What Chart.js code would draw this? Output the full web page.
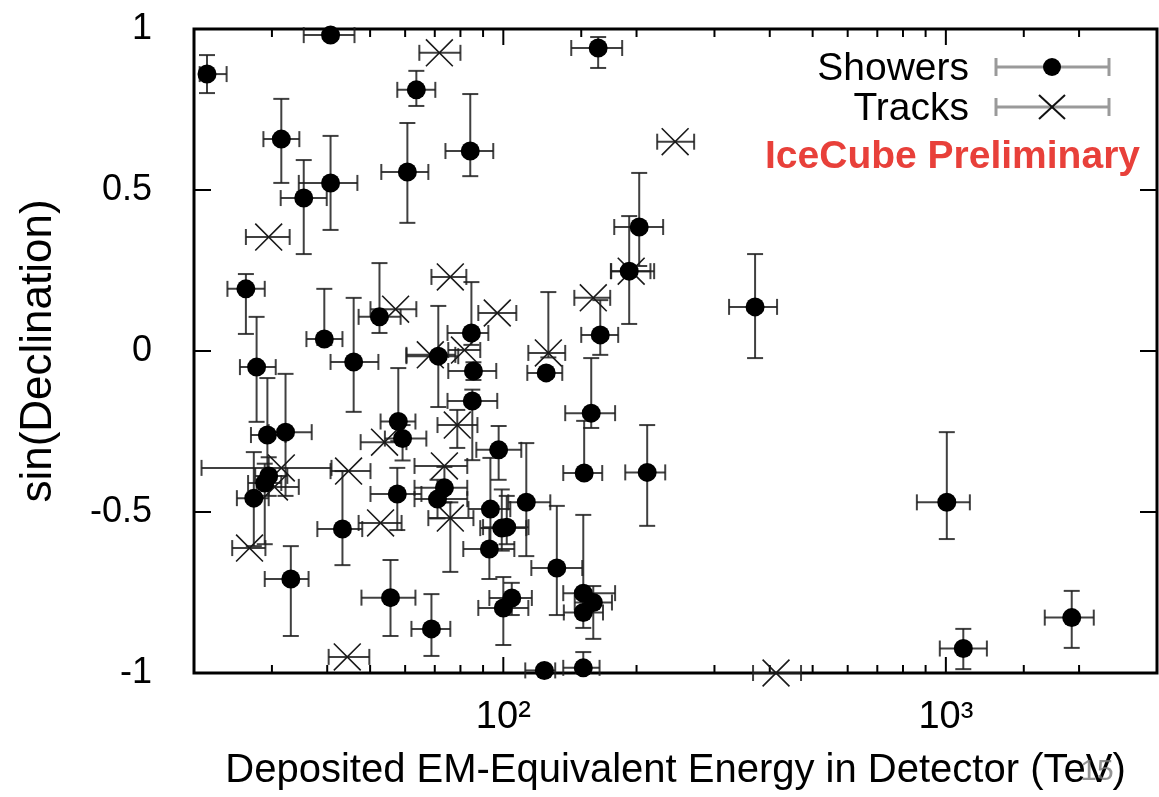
<!DOCTYPE html>
<html>
<head>
<meta charset="utf-8">
<script src="https://cdn.jsdelivr.net/npm/chart.js@4.4.0/dist/chart.umd.min.js"></script>
<style>
  html, body { margin: 0; padding: 0; background: #fff; }
  #wrap { width: 1159px; height: 797px; }
</style>
</head>
<body>
<div id="wrap"><canvas id="c" width="1159" height="797"></canvas></div>
<script>
// Showers: deposited energy (TeV) with low/high, sin(dec) with low/high
const showerE    = [21.4, 40.7, 63.6, 31.5, 35.4, 40.7, 60.7, 84.2, 163.8, 202.8, 192.5, 165.6, 125.0, 158.0, 370.6, 97.6, 152.3, 211.4,
                    26.2, 39.4, 45.9, 52.5, 27.7, 84.7, 71.3, 85.6, 85.1, 57.9, 59.2, 29.3, 32.2, 29.5, 28.9, 27.3, 33.1, 43.3, 57.6,
                    73.6, 71.0, 55.6, 68.8, 93.5, 112.7, 99.2, 101.8, 93.0, 132.1, 104.5, 100.0, 151.6, 159.7, 151.6, 123.8, 151.6,
                    1005, 1095, 1925];
const showerELo  = [20.6, 35.4, 57.6, 28.7, 31.4, 34.5, 53.0, 74.0, 142.4, 178.1, 175.0, 150.0, 113.3, 138.0, 323.7, 86.9, 136.6, 188.6,
                    23.8, 35.9, 40.7, 47.1, 25.4, 74.8, 60.4, 75.1, 74.8, 52.8, 54.0, 26.9, 29.5, 27.5, 26.5, 25.0, 28.9, 38.0, 50.1,
                    63.0, 63.0, 47.8, 62.0, 83.4, 102.6, 88.7, 90.0, 81.2, 115.7, 93.0, 87.8, 136.6, 145.0, 137.0, 112.1, 136.6,
                    860, 969, 1673];
const showerEHi  = [23.7, 46.1, 70.2, 34.6, 39.9, 46.8, 67.7, 94.9, 185.6, 229.7, 215.0, 181.8, 135.9, 178.9, 415.5, 109.8, 167.3, 232.2,
                    28.9, 43.3, 52.2, 58.6, 30.6, 92.5, 79.1, 96.4, 96.9, 63.3, 67.0, 32.2, 36.9, 32.5, 31.5, 29.5, 36.3, 48.0, 65.3,
                    82.9, 82.9, 63.3, 75.9, 103.7, 127.7, 112.7, 114.0, 105.9, 150.8, 116.0, 113.9, 178.9, 176.0, 168.0, 131.0, 165.0,
                    1133, 1238, 2159];
const showerSin   = [0.860, 0.981, 0.811, 0.658, 0.475, 0.522, 0.556, 0.621, 0.941, 0.385, 0.248, 0.050, -0.068, -0.193, 0.137, -0.307, -0.379, -0.377,
                     0.193, 0.037, -0.034, 0.106, -0.050, 0.056, -0.016, -0.062, -0.155, -0.219, -0.272, -0.261, -0.252, -0.388, -0.410, -0.457, -0.708, -0.553, -0.444,
                     -0.425, -0.460, -0.766, -0.863, -0.491, -0.470, -0.550, -0.547, -0.615, -0.674, -0.767, -0.798, -0.752, -0.781, -0.812, -0.992, -0.984,
                     -0.470, -0.924, -0.828];
const showerSinLo = [0.801, 0.970, 0.761, 0.522, 0.301, 0.376, 0.398, 0.543, 0.879, 0.264, 0.084, -0.012, -0.080, -0.239, -0.022, -0.400, -0.394, -0.543,
                     0.053, 0.019, -0.189, 0.056, -0.220, 0.019, -0.174, -0.090, -0.339, -0.280, -0.340, -0.420, -0.450, -0.450, -0.600, -0.606, -0.885, -0.665, -0.556,
                     -0.470, -0.520, -0.885, -0.947, -0.602, -0.637, -0.620, -0.600, -0.708, -0.820, -0.820, -0.913, -0.800, -0.894, -0.860, -1.000, -1.000,
                     -0.584, -0.988, -0.922];
const showerSinHi = [0.919, 0.995, 0.870, 0.783, 0.593, 0.668, 0.708, 0.798, 0.975, 0.553, 0.419, 0.158, -0.056, -0.022, 0.301, -0.233, -0.217, -0.230,
                     0.239, 0.193, 0.165, 0.273, 0.106, 0.214, 0.140, -0.035, -0.120, -0.053, -0.230, -0.084, -0.071, -0.330, -0.350, -0.314, -0.606, -0.373, -0.363,
                     -0.360, -0.400, -0.649, -0.755, -0.332, -0.286, -0.430, -0.450, -0.550, -0.481, -0.720, -0.702, -0.509, -0.730, -0.760, -0.985, -0.935,
                     -0.252, -0.863, -0.745];

// Tracks
const trackE    = [71.7, 244.5, 29.5, 75.9, 57.1, 96.9, 159.7, 194.5, 126.4, 68.4, 81.7, 78.7, 53.9, 31.5, 30.4, 44.7, 73.6, 52.8, 75.9, 26.7, 44.4, 413.3];
const trackELo  = [64.6, 222.7, 26.2, 68.8, 50.1, 87.8, 144.7, 175.3, 113.9, 60.4, 75.1, 71.0, 47.6, 20.8, 27.7, 40.7, 63.0, 47.1, 67.7, 24.4, 40.3, 366.7];
const trackEHi  = [80.0, 269.9, 32.9, 82.5, 63.6, 107.0, 174.4, 219.2, 138.0, 77.9, 88.7, 87.4, 60.4, 40.9, 34.5, 50.1, 82.9, 58.9, 85.6, 29.0, 49.8, 470.7];
const trackSin   = [0.926, 0.650, 0.354, 0.230, 0.130, 0.118, 0.165, 0.248, -0.006, -0.012, 0.003, -0.230, -0.283, -0.363, -0.422, -0.373, -0.357, -0.534, -0.519, -0.612, -0.950, -1.000];
const trackSinLo = [0.926, 0.650, 0.354, 0.230, 0.130, 0.118, 0.165, 0.248, -0.020, -0.012, 0.003, -0.301, -0.283, -0.363, -0.422, -0.373, -0.357, -0.534, -0.686, -0.612, -0.950, -1.000];
const trackSinHi = [0.926, 0.650, 0.354, 0.230, 0.130, 0.118, 0.165, 0.248, 0.183, -0.012, 0.003, -0.183, -0.283, -0.363, -0.422, -0.373, -0.357, -0.534, -0.470, -0.612, -0.950, -1.000];

const xTickLabels = { 100: '10²', 1000: '10³' };
const FONT = '"Liberation Sans", Arial, Helvetica, sans-serif';

function toPoints(e, s) {
    return e.map((v, i) => ({ x: v, y: s[i] }));
}

const errSets = [
    [showerE, showerELo, showerEHi, showerSin, showerSinLo, showerSinHi],
    [trackE, trackELo, trackEHi, trackSin, trackSinLo, trackSinHi]
];

function seg(ctx, x1, y1, x2, y2) {
    ctx.beginPath();
    ctx.moveTo(x1, y1);
    ctx.lineTo(x2, y2);
    ctx.stroke();
}

// no automatic label padding, the layout padding decides the plot box
function noPad(s) {
    s.paddingTop = 0;
    s.paddingBottom = 0;
    s.paddingLeft = 0;
    s.paddingRight = 0;
}

// frame, inward ticks and error bars (under the markers)
const framePlugin = {
    id: 'frameAndErrors',
    beforeDatasetsDraw(chart) {
        const { ctx, chartArea: a, scales: { x, y } } = chart;
        ctx.save();
        ctx.strokeStyle = '#000';
        ctx.lineWidth = 2;
        x.ticks.forEach(t => {
            const px = x.getPixelForValue(t.value);
            const len = xTickLabels[t.value] ? 16 : 8;
            seg(ctx, px, a.bottom, px, a.bottom - len);
            seg(ctx, px, a.top, px, a.top + len);
        });
        y.ticks.forEach(t => {
            const py = y.getPixelForValue(t.value);
            seg(ctx, a.left, py, a.left + 17, py);
            seg(ctx, a.right, py, a.right - 17, py);
        });
        ctx.lineWidth = 3;
        ctx.strokeRect(a.left, a.top, a.right - a.left, a.bottom - a.top);

        ctx.strokeStyle = 'rgba(30,30,30,0.85)';
        ctx.lineWidth = 2;
        const cap = 8;
        errSets.forEach(([e, eLo, eHi, s, sLo, sHi]) => {
            e.forEach((v, i) => {
                const px = x.getPixelForValue(v);
                const py = y.getPixelForValue(s[i]);
                const x1 = x.getPixelForValue(eLo[i]);
                const x2 = x.getPixelForValue(eHi[i]);
                seg(ctx, x1, py, x2, py);
                seg(ctx, x1, py - cap, x1, py + cap);
                seg(ctx, x2, py - cap, x2, py + cap);
                const y1 = y.getPixelForValue(sHi[i]);
                const y2 = y.getPixelForValue(sLo[i]);
                if (Math.abs(y2 - y1) > 2) {
                    seg(ctx, px, y1, px, y2);
                    if (py - y1 > 2) seg(ctx, px - cap, y1, px + cap, y1);
                    if (y2 - py > 2) seg(ctx, px - cap, y2, px + cap, y2);
                }
            });
        });
        ctx.restore();
    },
    afterDraw(chart) {
        const { ctx, chartArea: a } = chart;
        ctx.save();
        // legend
        const tx = a.right - 188, bx1 = a.right - 161, bx2 = a.right - 48, mx = a.right - 105;
        ctx.font = '39px ' + FONT;
        ctx.fillStyle = '#000';
        ctx.textAlign = 'right';
        ctx.textBaseline = 'middle';
        [['Showers', 67], ['Tracks', 107]].forEach(([label, ly], k) => {
            ctx.fillText(label, tx, ly + 2);
            ctx.strokeStyle = '#9a9a9a';
            ctx.lineWidth = 3;
            seg(ctx, bx1, ly, bx2, ly);
            seg(ctx, bx1, ly - 9, bx1, ly + 9);
            seg(ctx, bx2, ly - 9, bx2, ly + 9);
            if (k === 0) {
                ctx.beginPath();
                ctx.arc(mx, ly, 9, 0, Math.PI * 2);
                ctx.fill();
            } else {
                ctx.strokeStyle = '#111';
                ctx.lineWidth = 2;
                seg(ctx, mx - 13, ly - 12, mx + 13, ly + 12);
                seg(ctx, mx - 13, ly + 12, mx + 13, ly - 12);
            }
        });
        ctx.font = 'bold 39px ' + FONT;
        ctx.fillStyle = '#e8403a';
        ctx.fillText('IceCube Preliminary', a.right - 17, 157);
        // slide page number overlapping the axis title
        ctx.font = '30px ' + FONT;
        ctx.fillStyle = 'rgba(120,120,120,0.8)';
        ctx.textAlign = 'center';
        ctx.fillText('15', 1097, 772);
        ctx.restore();
    }
};

new Chart(document.getElementById('c'), {
    type: 'scatter',
    data: {
        datasets: [
            {
                label: 'Showers',
                data: toPoints(showerE, showerSin),
                pointStyle: 'circle',
                pointRadius: 9.5,
                backgroundColor: '#000',
                borderColor: '#000',
                borderWidth: 0,
                clip: false
            },
            {
                label: 'Tracks',
                data: toPoints(trackE, trackSin),
                pointStyle: 'crossRot',
                pointRadius: 19,
                borderColor: '#1a1a1a',
                borderWidth: 1.6,
                clip: false
            }
        ]
    },
    options: {
        responsive: false,
        animation: false,
        events: [],
        layout: { autoPadding: false, padding: { top: 29, right: 2, left: 0, bottom: 0 } },
        plugins: { legend: { display: false }, tooltip: { enabled: false } },
        scales: {
            x: {
                type: 'logarithmic',
                min: 20,
                max: 3000,
                grid: { display: false, drawTicks: false },
                border: { display: false },
                ticks: {
                    autoSkip: false,
                    maxRotation: 0,
                    padding: 22,
                    color: '#000',
                    font: { family: FONT, size: 38 },
                    callback: v => xTickLabels[v] || ''
                },
                title: {
                    display: true,
                    text: 'Deposited EM-Equivalent Energy in Detector (TeV)',
                    color: '#000',
                    font: { family: FONT, size: 40 },
                    padding: { top: 0, bottom: 2 }
                },
                afterFit: s => { s.height = 124; noPad(s); }
            },
            y: {
                min: -1,
                max: 1,
                grid: { display: false, drawTicks: false },
                border: { display: false },
                ticks: {
                    stepSize: 0.5,
                    padding: 42,
                    color: '#000',
                    font: { family: FONT, size: 36 },
                    callback: v => String(v)
                },
                title: {
                    display: true,
                    text: 'sin(Declination)',
                    color: '#000',
                    font: { family: FONT, size: 44 },
                    padding: { top: 12, bottom: 0 }
                },
                afterFit: s => { s.width = 194; noPad(s); }
            }
        }
    },
    plugins: [framePlugin]
});
</script>
</body>
</html>
